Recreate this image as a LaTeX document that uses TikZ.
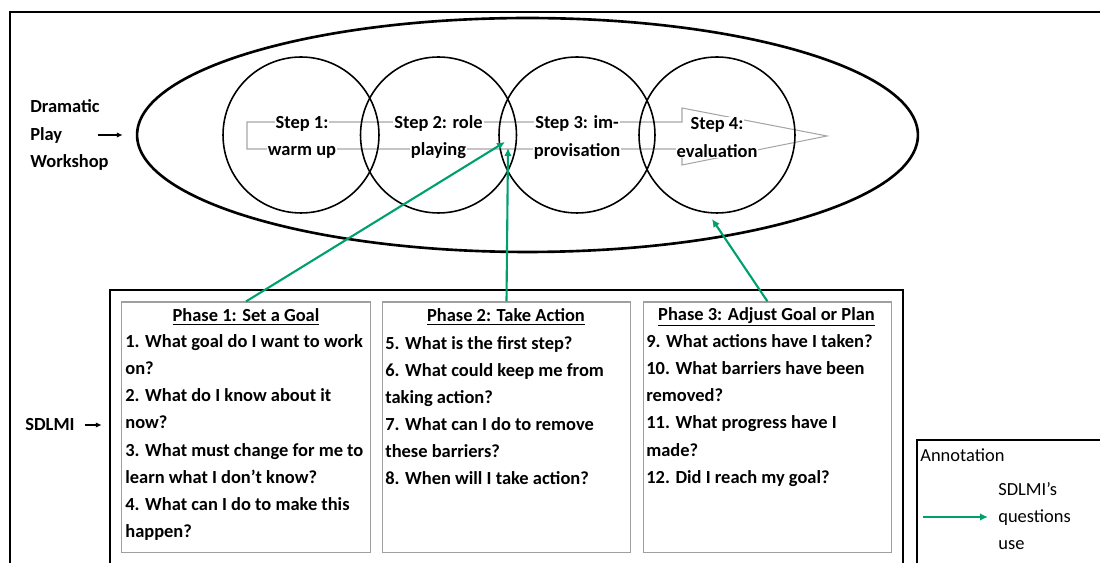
\documentclass[tikz,border=0pt]{standalone}
\usepackage{fontspec}
\setmainfont{Carlito}
\usepackage{tikz}
\usetikzlibrary{shapes.geometric}
\usetikzlibrary{arrows.meta}
\definecolor{sdlmigreen}{RGB}{0,160,110}
\newcommand{\wbox}[1]{{\setlength{\fboxsep}{0.6pt}\colorbox{white}{#1}}}

\begin{document}
\begin{tikzpicture}[x=0.02cm, y=-0.02cm, >={Latex[length=1.2mm, width=1.1mm]},
        font=\fontsize{10.5}{15.4}\selectfont\bfseries,
        stage circle/.style={circle, draw, line width=0.9pt, minimum size=3.12cm, inner sep=0pt},
        stage text/.style={inner sep=0pt, align=center},
        phase box/.style={draw=gray!75, line width=0.6pt, minimum width=4.97cm, minimum height=5.02cm, inner sep=0pt},
        phase text/.style={anchor=west, align=left, inner sep=0pt},
        green arrow/.style={->, draw=sdlmigreen, line width=1.2pt, >={Latex[length=1.6mm, width=1.5mm]}}]
        \useasboundingbox (0,0) rectangle (1100,563);
        \clip (0,0) rectangle (1100,563);

        % Outer frame
        \draw[line width=1.2pt] (10,600) -- (10,12) -- (1120,12);

        % Workshop ellipse
        \node (W) at (527.5,135) [ellipse, draw, line width=1.5pt, minimum width=15.62cm, minimum height=4.68cm, inner sep=0pt] {};

        % Grey process arrow
        \draw[gray!70, line width=0.6pt] (247,122) -- (682,122) -- (682,108) -- (827,136) -- (682,165) -- (682,149) -- (247,149) -- cycle;

        % Steps
        \node (S1) at (301,135) [stage circle] {};
        \node (S2) at (438.5,135) [stage circle] {};
        \node (S3) at (577,135) [stage circle] {};
        \node (S4) at (717,135) [stage circle] {};
        \node (L1) at (302,137.5) [stage text] {\wbox{Step 1:}\\\wbox{warm up}};
        \node (L2) at (438.5,137.5) [stage text] {\wbox{Step 2: role}\\\wbox{playing}};
        \node (L3) at (577,137.5) [stage text] {\wbox{Step 3: im-}\\\wbox{provisation}};
        \node (L4) at (717,137.5) [stage text] {\wbox{Step 4:}\\\wbox{evaluation}};

        % Left labels
        \node (D) at (30,135) [anchor=west, align=left, inner sep=0pt] {Dramatic\\Play\\Workshop};
        \coordinate (Da) at (98,135);
        \draw[->, line width=0.8pt, shorten >=0.26cm] (Da) -- (W.west);

        % SDLMI box
        \node (B) at (506.5,445) [draw, line width=1.5pt, minimum width=15.86cm, minimum height=6.2cm, inner sep=0pt] {};
        \node (M) at (25,425) [anchor=west, inner sep=0pt] {SDLMI};
        \draw[->, line width=0.8pt, shorten <=0.2cm, shorten >=0.14cm] (M.east) -- (M.east -| B.west);

        % Phases
        \node (P1) at (246,427.5) [phase box] {};
        \node (P2) at (506.5,427.5) [phase box] {};
        \node (P3) at (767.5,427.5) [phase box] {};
        \node (T1) at (246,317) {\underline{Phase 1: Set a Goal}};
        \node (T2) at (506,317) {\underline{Phase 2: Take Action}};
        \node (T3) at (766.5,317) {\underline{Phase 3: Adjust Goal or Plan}};
        \node (Q1) at (125,437.5) [phase text] {1. What goal do I want to work\\on?\\2. What do I know about it\\now?\\3. What must change for me to\\learn what I don't know?\\4. What can I do to make this\\happen?};
        \node (Q2) at (385,410.5) [phase text] {5. What is the first step?\\6. What could keep me from\\taking action?\\7. What can I do to remove\\these barriers?\\8. When will I take action?};
        \node (Q3) at (646,410.5) [phase text] {9. What actions have I taken?\\10. What barriers have been\\removed?\\11. What progress have I\\made?\\12. Did I reach my goal?};

        % Annotation
        \node (A) at (1018.5,520) [draw, line width=1.2pt, minimum width=4.06cm, minimum height=3.2cm, inner sep=0pt] {};
        \node (An) at (920,455) [anchor=west, inner sep=0pt, font=\fontsize{10.5}{15.4}\selectfont] {Annotation};
        \node (U) at (998,516) [anchor=west, align=left, inner sep=0pt, font=\fontsize{10.5}{15.4}\selectfont] {SDLMI’s\\questions\\use};
        \coordinate (Ua) at (923,517);
        \draw[green arrow, shorten >=0.2cm] (Ua) -- (Ua -| U.west);

        % Arrows from phases to steps
        \coordinate (G1) at (505,142);
        \coordinate (G2) at (508,148);
        \coordinate (G3) at (712,219);
        \draw[green arrow] (P1.north) -- (G1);
        \draw[green arrow] (P2.north) -- (G2);
        \draw[green arrow] (P3.north) -- (G3);

    \end{tikzpicture}
\end{document}
